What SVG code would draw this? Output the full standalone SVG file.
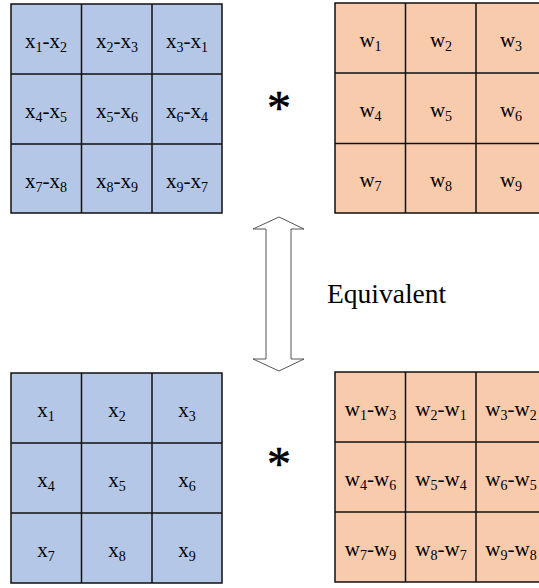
<svg xmlns="http://www.w3.org/2000/svg" width="539" height="588" viewBox="0 0 539 588">
<style>
.b{fill:#b4c7e7;stroke:#111;stroke-width:1.5}
.o{fill:#f8cbad;stroke:#111;stroke-width:1.5}
.g{fill:none;stroke:#111;stroke-width:1.5}
text{font-family:'Liberation Serif','Times New Roman',serif;fill:#000}
.t{font-size:21px;text-anchor:middle}
.s{font-size:14px}
</style>
<rect width="539" height="588" fill="#fff"/>

<g id="grid-x-diff">
<rect class="b" x="11" y="4" width="211" height="209"/>
<path class="g" d="M81.5 4V213M152 4V213M11 74H222M11 144H222"/>
<text class="t" x="46" y="48">x<tspan class="s" dy="4">1</tspan><tspan dy="-4">-x</tspan><tspan class="s" dy="4">2</tspan></text>
<text class="t" x="117" y="48">x<tspan class="s" dy="4">2</tspan><tspan dy="-4">-x</tspan><tspan class="s" dy="4">3</tspan></text>
<text class="t" x="187" y="48">x<tspan class="s" dy="4">3</tspan><tspan dy="-4">-x</tspan><tspan class="s" dy="4">1</tspan></text>
<text class="t" x="46" y="118">x<tspan class="s" dy="4">4</tspan><tspan dy="-4">-x</tspan><tspan class="s" dy="4">5</tspan></text>
<text class="t" x="117" y="118">x<tspan class="s" dy="4">5</tspan><tspan dy="-4">-x</tspan><tspan class="s" dy="4">6</tspan></text>
<text class="t" x="187" y="118">x<tspan class="s" dy="4">6</tspan><tspan dy="-4">-x</tspan><tspan class="s" dy="4">4</tspan></text>
<text class="t" x="46" y="188">x<tspan class="s" dy="4">7</tspan><tspan dy="-4">-x</tspan><tspan class="s" dy="4">8</tspan></text>
<text class="t" x="117" y="188">x<tspan class="s" dy="4">8</tspan><tspan dy="-4">-x</tspan><tspan class="s" dy="4">9</tspan></text>
<text class="t" x="187" y="188">x<tspan class="s" dy="4">9</tspan><tspan dy="-4">-x</tspan><tspan class="s" dy="4">7</tspan></text>
</g>

<g id="grid-w">
<rect class="o" x="335" y="3" width="211.5" height="210"/>
<path class="g" d="M405.5 3V213M476 3V213M335 73H546.5M335 143.5H546.5"/>
<text class="t" x="370.5" y="47">w<tspan class="s" dy="4">1</tspan></text>
<text class="t" x="441" y="47">w<tspan class="s" dy="4">2</tspan></text>
<text class="t" x="511" y="47">w<tspan class="s" dy="4">3</tspan></text>
<text class="t" x="370.5" y="117">w<tspan class="s" dy="4">4</tspan></text>
<text class="t" x="441" y="117">w<tspan class="s" dy="4">5</tspan></text>
<text class="t" x="511" y="117">w<tspan class="s" dy="4">6</tspan></text>
<text class="t" x="370.5" y="187">w<tspan class="s" dy="4">7</tspan></text>
<text class="t" x="441" y="187">w<tspan class="s" dy="4">8</tspan></text>
<text class="t" x="511" y="187">w<tspan class="s" dy="4">9</tspan></text>
</g>

<g id="grid-x">
<rect class="b" x="11" y="373" width="211" height="210"/>
<path class="g" d="M81.5 373V583M152 373V583M11 443H222M11 513H222"/>
<text class="t" x="46" y="417">x<tspan class="s" dy="4">1</tspan></text>
<text class="t" x="117" y="417">x<tspan class="s" dy="4">2</tspan></text>
<text class="t" x="187" y="417">x<tspan class="s" dy="4">3</tspan></text>
<text class="t" x="46" y="487">x<tspan class="s" dy="4">4</tspan></text>
<text class="t" x="117" y="487">x<tspan class="s" dy="4">5</tspan></text>
<text class="t" x="187" y="487">x<tspan class="s" dy="4">6</tspan></text>
<text class="t" x="46" y="557">x<tspan class="s" dy="4">7</tspan></text>
<text class="t" x="117" y="557">x<tspan class="s" dy="4">8</tspan></text>
<text class="t" x="187" y="557">x<tspan class="s" dy="4">9</tspan></text>
</g>

<g id="grid-w-diff">
<rect class="o" x="335" y="372" width="211.5" height="210"/>
<path class="g" d="M405.5 372V582M476 372V582M335 442H546.5M335 512H546.5"/>
<text class="t" x="370.5" y="416">w<tspan class="s" dy="4">1</tspan><tspan dy="-4">-w</tspan><tspan class="s" dy="4">3</tspan></text>
<text class="t" x="441" y="416">w<tspan class="s" dy="4">2</tspan><tspan dy="-4">-w</tspan><tspan class="s" dy="4">1</tspan></text>
<text class="t" x="511" y="416">w<tspan class="s" dy="4">3</tspan><tspan dy="-4">-w</tspan><tspan class="s" dy="4">2</tspan></text>
<text class="t" x="370.5" y="486">w<tspan class="s" dy="4">4</tspan><tspan dy="-4">-w</tspan><tspan class="s" dy="4">6</tspan></text>
<text class="t" x="441" y="486">w<tspan class="s" dy="4">5</tspan><tspan dy="-4">-w</tspan><tspan class="s" dy="4">4</tspan></text>
<text class="t" x="511" y="486">w<tspan class="s" dy="4">6</tspan><tspan dy="-4">-w</tspan><tspan class="s" dy="4">5</tspan></text>
<text class="t" x="370.5" y="556">w<tspan class="s" dy="4">7</tspan><tspan dy="-4">-w</tspan><tspan class="s" dy="4">9</tspan></text>
<text class="t" x="441" y="556">w<tspan class="s" dy="4">8</tspan><tspan dy="-4">-w</tspan><tspan class="s" dy="4">7</tspan></text>
<text class="t" x="511" y="556">w<tspan class="s" dy="4">9</tspan><tspan dy="-4">-w</tspan><tspan class="s" dy="4">8</tspan></text>
</g>

<g id="op-top"><text x="279" y="124" font-size="48" text-anchor="middle" stroke="#000" stroke-width="0.6">*</text></g>
<g id="op-bottom"><text x="279" y="480" font-size="48" text-anchor="middle" stroke="#000" stroke-width="0.6">*</text></g>

<g id="connectors">
<polygon points="279,217 304,229 291,229 291,359 304,359 279,371 253,359 266,359 266,229 253,229" fill="#fff" stroke="#555" stroke-width="1"/>
</g>
<g id="label"><text x="327" y="303" font-size="27.5">Equivalent</text></g>
</svg>
